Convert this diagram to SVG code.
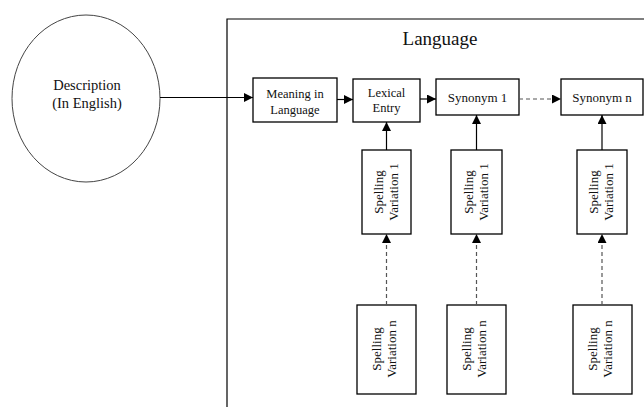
<svg xmlns="http://www.w3.org/2000/svg" width="644" height="407" viewBox="0 0 644 407">
<style>
.box{fill:#fff;stroke:#000;stroke-width:1.3}
.t{fill:#111;text-anchor:middle}
.s12{font-size:12.5px}
.s13{font-size:13px}
.ln{stroke:#000;stroke-width:1.2;fill:none}
.dl{stroke:#555;stroke-width:1.2;fill:none;stroke-dasharray:4 3}
</style>
<defs>
<marker id="ah" viewBox="0 0 10 10" refX="10" refY="5" markerWidth="9" markerHeight="9" markerUnits="userSpaceOnUse" orient="auto">
<path d="M0,0 L10,5 L0,10 z" fill="#000"/>
</marker>
</defs>
<rect width="644" height="407" fill="#fff"/>
<g font-family="'Liberation Serif', 'DejaVu Serif', serif">
<g id="frame">
<path d="M227,410 L227,19 L646,19" class="ln"/>
<text class="t" x="440" y="45" font-size="19">Language</text>
</g>

<g id="description">
<ellipse cx="86" cy="98.5" rx="74" ry="83.5" fill="#fff" stroke="#444" stroke-width="1"/>
<text class="t" x="87" y="90" font-size="14.5">Description</text>
<text class="t" x="87" y="108" font-size="14.5">(In English)</text>
</g>

<g id="meaning">
<rect class="box" x="253" y="78" width="84" height="44"/>
<text class="t s12" x="295" y="98">Meaning in</text>
<text class="t s12" x="295" y="114">Language</text>
</g>

<g id="lexical">
<rect class="box" x="353" y="79" width="67" height="43"/>
<text class="t s12" x="386.5" y="97">Lexical</text>
<text class="t s12" x="386.5" y="112">Entry</text>
</g>

<g id="synonym1">
<rect class="box" x="436" y="79" width="83" height="36"/>
<text class="t s13" x="477.5" y="102">Synonym 1</text>
</g>

<g id="synonymn">
<rect class="box" x="561" y="79" width="82" height="36"/>
<text class="t s13" x="602" y="102">Synonym n</text>
</g>

<g id="sp1a">
<rect class="box" x="362" y="150" width="49" height="84"/>
<text class="t s13" transform="translate(386.5,192) rotate(-90)"><tspan x="0" y="-4">Spelling</tspan><tspan x="0" y="11">Variation 1</tspan></text>
</g>
<g id="sp1b">
<rect class="box" x="451" y="150" width="51" height="84"/>
<text class="t s13" transform="translate(476.5,192) rotate(-90)"><tspan x="0" y="-4">Spelling</tspan><tspan x="0" y="11">Variation 1</tspan></text>
</g>
<g id="sp1c">
<rect class="box" x="577" y="150" width="50" height="84"/>
<text class="t s13" transform="translate(602,192) rotate(-90)"><tspan x="0" y="-4">Spelling</tspan><tspan x="0" y="11">Variation 1</tspan></text>
</g>

<g id="spna">
<rect class="box" x="357" y="305" width="59" height="89"/>
<text class="t s13" transform="translate(386.5,349) rotate(-90)"><tspan x="0" y="-6">Spelling</tspan><tspan x="0" y="9">Variation n</tspan></text>
</g>
<g id="spnb">
<rect class="box" x="447" y="305" width="59" height="89"/>
<text class="t s13" transform="translate(476.5,349) rotate(-90)"><tspan x="0" y="-6">Spelling</tspan><tspan x="0" y="9">Variation n</tspan></text>
</g>
<g id="spnc">
<rect class="box" x="573" y="305" width="59" height="89"/>
<text class="t s13" transform="translate(602.5,349) rotate(-90)"><tspan x="0" y="-6">Spelling</tspan><tspan x="0" y="9">Variation n</tspan></text>
</g>
</g>
<g id="connectors">
<line class="ln" x1="160" y1="97.5" x2="253" y2="97.5" marker-end="url(#ah)"/>
<line class="ln" x1="337" y1="99.5" x2="353" y2="99.5" marker-end="url(#ah)"/>
<line class="ln" x1="420" y1="99" x2="436" y2="99" marker-end="url(#ah)"/>
<line class="dl" x1="519" y1="99" x2="561" y2="99" marker-end="url(#ah)"/>
<line class="ln" x1="386.5" y1="150" x2="386.5" y2="122" marker-end="url(#ah)"/>
<line class="ln" x1="476.5" y1="150" x2="476.5" y2="115" marker-end="url(#ah)"/>
<line class="ln" x1="602" y1="150" x2="602" y2="115" marker-end="url(#ah)"/>
<line class="dl" x1="386.5" y1="305" x2="386.5" y2="234" marker-end="url(#ah)"/>
<line class="dl" x1="476.5" y1="305" x2="476.5" y2="234" marker-end="url(#ah)"/>
<line class="dl" x1="602" y1="305" x2="602" y2="234" marker-end="url(#ah)"/>
</g>
</svg>
